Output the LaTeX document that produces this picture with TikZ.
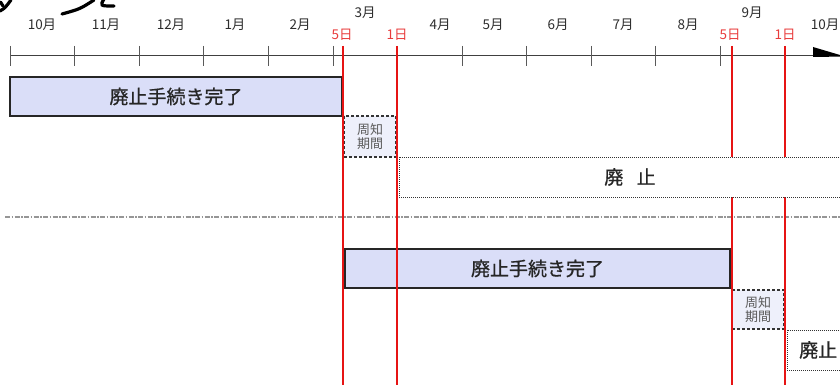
\documentclass[tikz,border=0pt]{standalone}
\usepackage{fontspec}
\newfontfamily\jp{Noto Sans CJK JP}
\newfontfamily\jpb[FakeBold=0.8]{Noto Sans CJK JP}
\definecolor{boxfill}{RGB}{218,222,248}
\definecolor{notefill}{RGB}{238,240,251}
\definecolor{redline}{RGB}{230,20,20}
\definecolor{redtxt}{RGB}{232,60,60}
\definecolor{txtgray}{RGB}{45,45,45}
\definecolor{sepgray}{RGB}{150,150,150}
\tikzset{
  mon/.style={font=\jp\fontsize{13.5}{13.5}\selectfont, text=txtgray, inner sep=0pt},
  day/.style={font=\jp\fontsize{13.5}{13.5}\selectfont, text=redtxt, inner sep=0pt},
  tick/.style={draw=black!65, line width=1pt},
  redv/.style={draw=redline, line width=2pt},
  donebox/.style={draw=black!85, line width=1.4pt, fill=boxfill, inner sep=0pt, outer sep=0pt, anchor=north west,
     font=\jpb\fontsize{19}{19}\selectfont, text=black!85},
  notebox/.style={draw=black!80, dashed, dash pattern=on 3pt off 2pt, line width=1.2pt, fill=notefill, inner sep=0pt, outer sep=0pt, anchor=north west,
     font=\jp\fontsize{13}{14.5}\selectfont, text=black!65, align=center},
  endbox/.style={draw=black!80, dash pattern=on 1pt off 1pt, line width=1pt, fill=white, inner sep=0pt, outer sep=0pt, anchor=north west},
  endtxt/.style={font=\jpb\fontsize{19}{19}\selectfont, text=black!85, inner sep=0pt},
  stroke/.style={draw=black, line width=3.2pt, line cap=round}
}
\begin{document}
\begin{tikzpicture}[x=1pt,y=-1pt]
\useasboundingbox (0,0) rectangle (840,385);
% cropped title fragments
\draw[stroke] (0.5,2) -- (3,6);
\draw[stroke] (0,11) .. controls (5,8) .. (11,0);
\draw[stroke] (62,14) .. controls (80,9) .. (94,0);
\draw[stroke] (104,-1) .. controls (100,6) .. (114,6);
% axis
\coordinate (axL) at (10,56);
\coordinate (axR) at (815,56);
\draw[draw=black!75, line width=1pt] (axL) -- (axR);
\fill[black] (813,47) -- (845,56.5) -- (813,57) -- cycle;
\foreach \x in {10,74.6,139.2,203.8,268.4,333,462,526.6,591.2,655.8,720.4}
  \draw[tick] (\x,46) -- (\x,66);
% month labels
\node[mon] (m10) at (42,25) {10月};
\node[mon] (m11) at (106,25) {11月};
\node[mon] (m12) at (171,25) {12月};
\node[mon] (m1) at (235,25) {1月};
\node[mon] (m2) at (300,25) {2月};
\node[mon] (m3) at (365,13) {3月};
\node[mon] (m4) at (440,25) {4月};
\node[mon] (m5) at (493,25) {5月};
\node[mon] (m6) at (558,25) {6月};
\node[mon] (m7) at (623,25) {7月};
\node[mon] (m8) at (688,25) {8月};
\node[mon] (m9) at (752,13) {9月};
\node[mon] (m10b) at (825,25) {10月};
% day labels
\node[day] (d5a) at (342,35) {5日};
\node[day] (d1a) at (397,35) {1日};
\node[day] (d5b) at (730,35) {5日};
\node[day] (d1b) at (785,35) {1日};
% separator
\draw[draw=sepgray, line width=1.5pt, dash pattern=on 5pt off 1.5pt on 1.5pt off 1.5pt] (5,217) -- (840,217);
% boxes (upper)
\node[donebox, minimum width=332pt, minimum height=39pt] (done1) at (10,77) {廃止手続き完了};
\node[notebox, minimum width=52pt, minimum height=41pt] (note1) at (344,116) {周知\\期間};
% boxes (lower)
\node[donebox, minimum width=385pt, minimum height=39pt] (done2) at (345,249) {廃止手続き完了};
\node[notebox, minimum width=52pt, minimum height=39pt] (note2) at (732,290) {周知\\期間};
% red vertical lines
\foreach \x in {343,397,732,785}
  \draw[redv] (\x,46) -- (\x,386);
% abolition boxes
\node[endbox, minimum width=450pt, minimum height=40pt] (end1) at (399,157) {};
\node[endtxt] (end1t) at (630,177) {廃\hspace{0.7em}止};
\node[endbox, minimum width=60pt, minimum height=40pt] (end2) at (787,330) {};
\node[endtxt, anchor=west] (end2t) at (799,350) {廃止};
\end{tikzpicture}
\end{document}
